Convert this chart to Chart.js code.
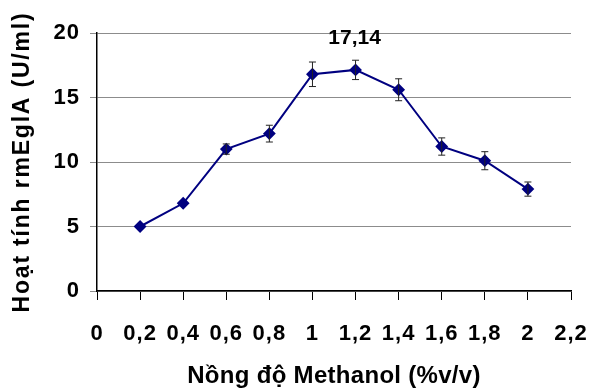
<!DOCTYPE html>
<html>
<head>
<meta charset="utf-8">
<script src="https://cdn.jsdelivr.net/npm/chart.js@4.4.0/dist/chart.umd.min.js"></script>
<style>
  html, body { margin: 0; padding: 0; background: #fff; }
  #wrap { width: 601px; height: 392px; }
</style>
</head>
<body>
<div id="wrap"><canvas id="methanolChart" width="601" height="392"></canvas></div>
<script>
// ====== data ======
const concentrations = [0.2, 0.4, 0.6, 0.8, 1.0, 1.2, 1.4, 1.6, 1.8, 2.0];
const activity = [5.0, 6.8, 11.0, 12.2, 16.8, 17.14, 15.6, 11.2, 10.1, 7.9];
const errors = [0, 0, 0.4, 0.65, 0.95, 0.75, 0.85, 0.67, 0.7, 0.55];
const peakLabel = "17,14";
const peakIndex = 5;

const fmt = v => String(Number(v.toFixed(1))).replace(".", ",");

// the old Excel text is a bit wider-spaced than plain Arial
const spacing = {
  id: "spacing",
  beforeDraw(chart) {
    chart.ctx.letterSpacing = "1px";
    const wrapTitle = (scale, ls) => {
      if (scale._spaced) return;
      const orig = scale.drawTitle;
      scale.drawTitle = function () {
        const c = this.ctx;
        const prev = c.letterSpacing;
        c.letterSpacing = ls;
        orig.call(this);
        c.letterSpacing = prev;
      };
      scale._spaced = true;
    };
    wrapTitle(chart.scales.x, "0.3px");
    wrapTitle(chart.scales.y, "1.8px");
  }
};

// error bars + peak label, drawn through the chart's own scales
const errorBars = {
  id: "errorBars",
  afterDatasetsDraw(chart) {
    const { ctx, scales: { x, y } } = chart;
    ctx.save();
    ctx.strokeStyle = "#222";
    ctx.lineWidth = 1;
    concentrations.forEach((c, i) => {
      if (!errors[i]) return;
      const px = x.getPixelForValue(c);
      const top = y.getPixelForValue(activity[i] + errors[i]);
      const bot = y.getPixelForValue(activity[i] - errors[i]);
      ctx.beginPath();
      ctx.moveTo(px, top); ctx.lineTo(px, bot);
      ctx.moveTo(px - 3.5, top); ctx.lineTo(px + 3.5, top);
      ctx.moveTo(px - 3.5, bot); ctx.lineTo(px + 3.5, bot);
      ctx.stroke();
    });
    const lx = x.getPixelForValue(concentrations[peakIndex]);
    const ly = y.getPixelForValue(activity[peakIndex]);
    ctx.letterSpacing = "0px";
    ctx.fillStyle = "#000";
    ctx.font = "bold 21px 'Liberation Sans', Arial, sans-serif";
    ctx.textAlign = "center";
    ctx.textBaseline = "middle";
    ctx.fillText(peakLabel, lx - 1, ly - 32);
    ctx.restore();
  }
};

const tickFont = { family: "'Liberation Sans', Arial, sans-serif", size: 22, weight: "bold" };
const xTitleFont = { family: "'Liberation Sans', Arial, sans-serif", size: 24, weight: "bold" };
const yTitleFont = { family: "'Liberation Sans', Arial, sans-serif", size: 23, weight: "bold" };

new Chart(document.getElementById("methanolChart").getContext("2d"), {
  type: "line",
  data: {
    datasets: [{
      data: concentrations.map((c, i) => ({ x: c, y: activity[i] })),
      borderColor: "#000080",
      backgroundColor: "#000080",
      borderWidth: 2,
      pointStyle: "rectRot",
      pointRadius: 5,
      pointHoverRadius: 5,
      tension: 0
    }]
  },
  options: {
    responsive: false,
    animation: false,
    events: [],
    layout: { padding: { top: 33, right: 30, left: 0, bottom: 0 } },
    plugins: { legend: { display: false }, tooltip: { enabled: false } },
    scales: {
      x: {
        type: "linear",
        min: 0,
        max: 2.2,
        afterFit: s => { s.height = 101; s.paddingLeft = 0; s.paddingRight = 0; },
        ticks: { stepSize: 0.2, color: "#000", font: tickFont, padding: 21, maxRotation: 0, callback: v => fmt(v) },
        grid: { drawOnChartArea: false, drawTicks: true, tickLength: 9, color: "#000" },
        border: { color: "#000", width: 1.5 },
        title: { display: true, text: "Nồng độ Methanol (%v/v)", color: "#000", font: xTitleFont, padding: { bottom: 1 } }
      },
      y: {
        min: 0,
        max: 20,
        afterFit: s => { s.width = 97; },
        ticks: { stepSize: 5, color: "#000", font: tickFont, padding: 10 },
        grid: { color: "#8c8c8c", tickLength: 7, lineWidth: 1 },
        border: { color: "#000", width: 1.5 },
        title: { display: true, text: "Hoạt tính rmEglA (U/ml)", color: "#000", font: yTitleFont, padding: { top: 9 } }
      }
    }
  },
  plugins: [spacing, errorBars]
});
</script>
</body>
</html>
